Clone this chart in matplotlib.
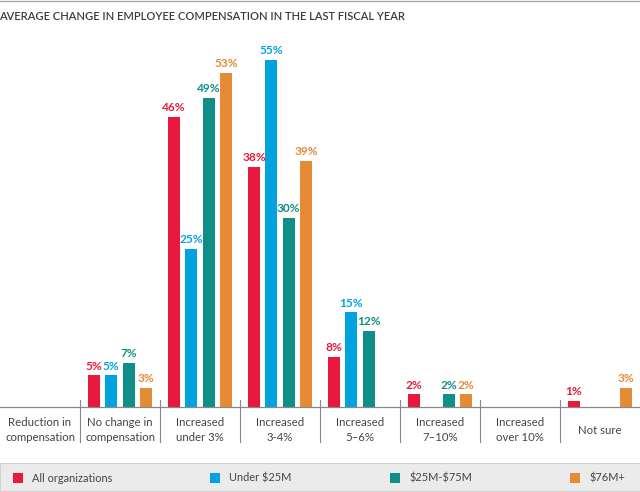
import numpy as np
import matplotlib.pyplot as plt
from matplotlib.patches import Rectangle
import matplotlib.transforms as mtransforms

plt.rcParams['font.family'] = ['Lato', 'DejaVu Sans']

categories = ['Reduction in\ncompensation', 'No change in\ncompensation', 'Increased\nunder 3%',
              'Increased\n3-4%', 'Increased\n5\u20136%', 'Increased\n7\u201310%',
              'Increased\nover 10%', 'Not sure']
series = ['All organizations', r'Under \$25M', r'\$25M-\$75M', r'\$76M+']
all_orgs = [0, 5, 46, 38, 8, 2, 0, 1]
under_25 = [0, 5, 25, 55, 15, 0, 0, 0]
mid_25_75 = [0, 7, 49, 30, 12, 2, 0, 0]
over_76 = [0, 3, 53, 39, 0, 2, 0, 3]
values = [all_orgs, under_25, mid_25_75, over_76]
colors = ['#e8193c', '#00a3e0', '#0f8f87', '#e58a35']

fig = plt.figure(figsize=(6.4, 4.92), dpi=100)
ax = fig.add_axes([0, 85 / 492, 1, 60 * 6.31 / 492])

x = np.arange(len(categories))
step = 0.217
width = 0.149
for i, (vals, col) in enumerate(zip(values, colors)):
    pos = x + (i - 1.5) * step
    for p, v in zip(pos, vals):
        if v > 0:
            ax.bar(p, v, width, color=col)
            ax.text(p, v + 0.6, f'{v}%', ha='center', va='bottom', color=col,
                    fontsize=8.6, fontweight='bold')

ax.set_xlim(-0.5, len(categories) - 0.5)
ax.set_ylim(0, 60)
ax.axis('off')
ax.axhline(0, color='#888888', lw=0.9, clip_on=False)

trans = mtransforms.blended_transform_factory(ax.transData, ax.transAxes)
for k in range(1, len(categories)):
    ax.plot([k - 0.5, k - 0.5], [0.0185, -0.0924], color='#888888', lw=0.8,
            transform=trans, clip_on=False)
for k, lab in enumerate(categories):
    ax.text(k, -0.062, lab, transform=trans, ha='center', va='center',
            fontsize=8.2, color='#444444', linespacing=1.45)

# title and top rule
fig.add_artist(plt.Line2D([0, 1], [1 - 1 / 492, 1 - 1 / 492], color='#aaaaaa', lw=1))
fig.text(-0.002, 1 - 17 / 492, 'AVERAGE CHANGE IN EMPLOYEE COMPENSATION IN THE LAST FISCAL YEAR',
         ha='left', va='center', fontsize=8, fontweight='semibold', color='#3a3a3a')

# legend band
fig.add_artist(Rectangle((0, 1 / 492), 1, 28 / 492, transform=fig.transFigure,
                         facecolor='#ebebeb', edgecolor='#d0d0d0', lw=0.8))
leg_x = [18, 215, 395, 575]
for lx, name, col in zip(leg_x, series, colors):
    fig.add_artist(Rectangle(((lx - 5) / 640, (492 - 483) / 492), 10 / 640, 10 / 492,
                             transform=fig.transFigure, facecolor=col, edgecolor='none'))
    fig.text((lx + 14) / 640, (492 - 478) / 492, name, ha='left', va='center',
             fontsize=7.9, color='#444444')

fig.savefig('out.png', dpi=100)
